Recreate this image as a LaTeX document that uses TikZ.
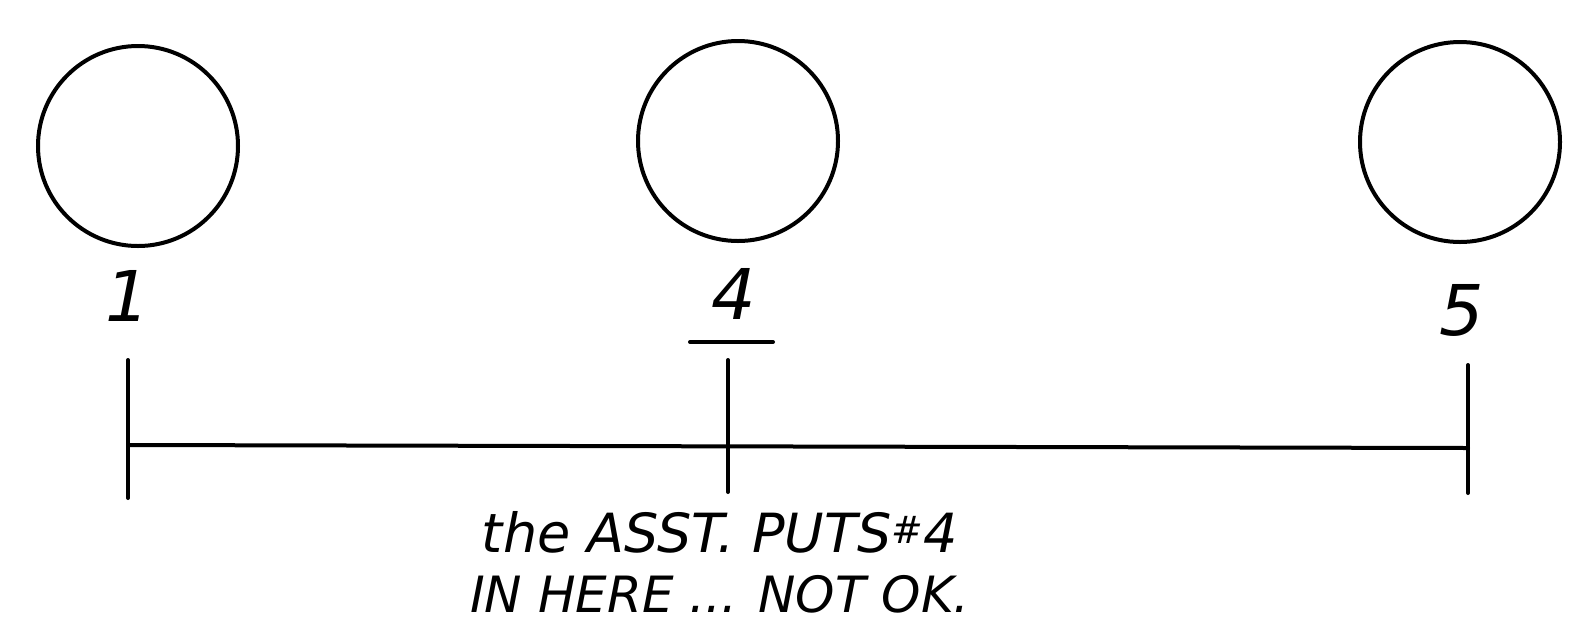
\documentclass[tikz,border=0pt]{standalone}
\usepackage{fontspec}
\setmainfont{DejaVu Sans}
\begin{document}
\begin{tikzpicture}[x=1pt,y=-1pt,
  ball/.style={circle,draw,line width=4pt,minimum size=200pt,inner sep=0pt},
  ink/.style={line width=4pt,line cap=round},
  num/.style={font=\fontsize{70}{70}\selectfont\itshape,inner sep=0pt},
  note/.style={font=\fontsize{50}{60}\selectfont\itshape,align=center,inner sep=0pt}]
\useasboundingbox (0,0) rectangle (1571,633);
\node[ball] (c1) at (138,146) {};
\node[ball] (c4) at (738,141) {};
\node[ball] (c5) at (1460,142) {};
\node[num] (n1) at (128,296) {1};
\node[num] (n4) at (734,294) {4};
\node[num] (n5) at (1462,310) {5};
\coordinate (u1) at (690,342);
\coordinate (u2) at (773,342);
\draw[ink] (u1) -- (u2);
\coordinate (t1a) at (128,360);
\coordinate (t1b) at (128,498);
\coordinate (t4a) at (728,360);
\coordinate (t4b) at (728,492);
\coordinate (t5a) at (1468,365);
\coordinate (t5b) at (1468,493);
\coordinate (h1) at (128,445);
\coordinate (h5) at (1468,448);
\draw[ink] (t1a) -- (t1b);
\draw[ink] (t4a) -- (t4b);
\draw[ink] (t5a) -- (t5b);
\draw[ink] (h1) -- (h5);
\node[note] (txt) at (720,562) {{\fontsize{54}{60}\selectfont the ASST. PUTS\textsuperscript{\#}4}\\IN HERE ... NOT OK.};
\end{tikzpicture}
\end{document}
